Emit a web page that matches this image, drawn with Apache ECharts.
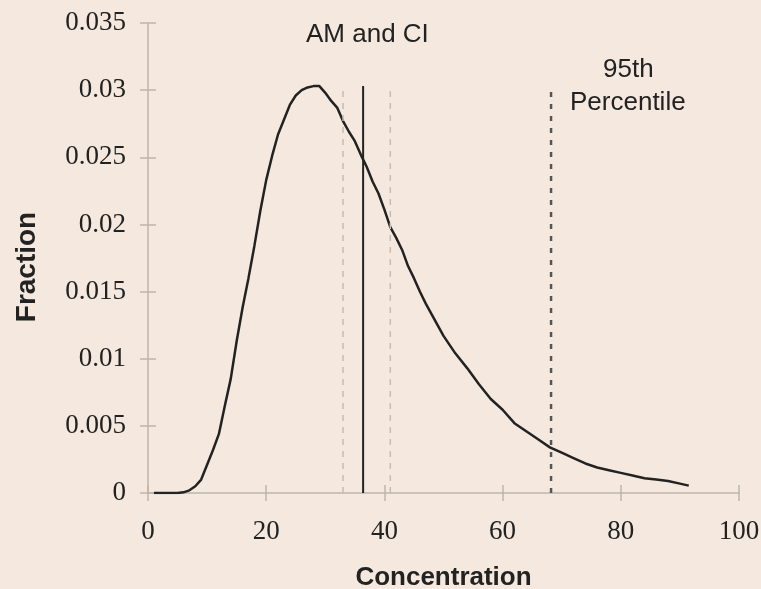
<!doctype html>
<html>
<head>
    <meta charset="utf-8">
    <title>Fraction vs Concentration</title>
    <style>
        html, body { margin: 0; padding: 0; width: 100%; height: 100%; background: #f5e9df; }
        #chart { width: 761px; height: 589px; }
    </style>
</head>
<body>
<div id="chart"></div>
<script src="https://cdn.jsdelivr.net/npm/echarts@6/dist/echarts.min.js"></script>
<script>
    // curve
    var conc = [1, 2, 3, 4, 5, 6, 7, 8, 9, 10, 11, 12, 13, 14, 15, 16, 17, 18, 19, 20,
        21, 22, 23, 24, 25, 26, 27, 28, 29, 30, 31, 32, 33, 34, 35, 36, 37, 38, 39, 40,
        41, 42, 43, 44, 45, 46, 47, 48, 49, 50, 52, 54, 56, 58, 60, 62, 64, 66, 68, 70,
        72, 74, 76, 78, 80, 82, 84, 86, 88, 90, 91.5];
    var fraction = [0, 0, 0, 0, 0, 0.00005, 0.0002, 0.0005, 0.001, 0.0021, 0.0032, 0.0044, 0.0065, 0.0085, 0.0113, 0.0138, 0.016, 0.0184, 0.021, 0.0233,
        0.0251, 0.0267, 0.0278, 0.0289, 0.0296, 0.03, 0.0302, 0.0303, 0.0303, 0.0298, 0.0292, 0.0287, 0.0277, 0.0269, 0.0262, 0.0252, 0.0243, 0.0232, 0.0223, 0.0211,
        0.0198, 0.019, 0.0181, 0.0169, 0.016, 0.015, 0.0141, 0.0133, 0.0125, 0.0117, 0.0104, 0.0093, 0.0081, 0.007, 0.0062, 0.0052, 0.0046, 0.004, 0.0034, 0.003,
        0.0026, 0.0022, 0.0019, 0.0017, 0.0015, 0.0013, 0.0011, 0.001, 0.0009, 0.0007, 0.00055];

    // reference lines
    var amValue = 36.4;
    var ciLow = 33;
    var ciHigh = 41;
    var p95 = 68.2;
    var lineTop = 0.0303;

    var xTicks = [0, 20, 40, 60, 80, 100];

    var curve = conc.map(function (c, i) { return [c, fraction[i]]; });

    function vline(x) { return [[x, 0], [x, lineTop]]; }

    var axisColor = '#bdb5ad';
    var serif = '"Liberation Serif", "DejaVu Serif", serif';
    var sans = '"Liberation Sans", Arial, sans-serif';

    var myChart = echarts.init(document.getElementById('chart'));
    var option = {
        backgroundColor: '#f5e9df',
        animation: false,
        grid: { left: 148, right: 22, top: 23, bottom: 96, outerBoundsMode: 'none' },
        xAxis: [{
            type: 'value', min: 0, max: 100, interval: 20,
            name: 'Concentration', nameLocation: 'middle', nameGap: 72,
            nameTextStyle: { fontFamily: sans, fontWeight: 'bold', fontSize: 26, color: '#222' },
            axisLine: { lineStyle: { color: axisColor, width: 1.5 } },
            axisTick: { length: 8, lineStyle: { color: axisColor, width: 1.5 } },
            axisLabel: { margin: 25, fontFamily: serif, fontSize: 27, color: '#222',
                formatter: function (v) { return xTicks.indexOf(v) >= 0 ? String(v) : ''; } },
            splitLine: { show: false }
        }, {
            type: 'value', min: 0, max: 100, interval: 20, position: 'bottom',
            axisLine: { show: false },
            axisTick: { inside: true, length: 8, lineStyle: { color: axisColor, width: 1.5 } },
            axisLabel: { show: false },
            splitLine: { show: false }
        }],
        yAxis: [{
            type: 'value', min: 0, max: 0.035, interval: 0.005,
            name: 'Fraction', nameLocation: 'middle', nameGap: 107, nameRotate: 90,
            nameTextStyle: { fontFamily: sans, fontWeight: 'bold', fontSize: 28, color: '#222', padding: [0, 18, 0, 0] },
            axisLine: { show: true, lineStyle: { color: axisColor, width: 1.5 } },
            axisTick: { show: true, length: 8, lineStyle: { color: axisColor, width: 1.5 } },
            axisLabel: { margin: 22, fontFamily: serif, fontSize: 27, color: '#222',
                formatter: function (v) { return v === 0 ? '0' : String(+v.toFixed(3)); } },
            splitLine: { show: false }
        }, {
            type: 'value', min: 0, max: 0.035, interval: 0.005, position: 'left',
            axisLine: { show: false },
            axisTick: { show: true, inside: true, length: 8, lineStyle: { color: axisColor, width: 1.5 } },
            axisLabel: { show: false },
            splitLine: { show: false }
        }],
        series: [
            {
                type: 'line', data: curve, symbol: 'none', smooth: false,
                lineStyle: { color: '#222', width: 2.5 }
            },
            {
                type: 'line', data: vline(ciLow), symbol: 'none',
                lineStyle: { color: '#c4bcb6', width: 1.5, type: [6, 6] }
            },
            {
                type: 'line', data: vline(ciHigh), symbol: 'none',
                lineStyle: { color: '#c4bcb6', width: 1.5, type: [6, 6] }
            },
            {
                type: 'line', data: vline(amValue), symbol: 'none',
                lineStyle: { color: '#222', width: 2 }
            },
            {
                type: 'line', data: vline(p95), symbol: 'none',
                lineStyle: { color: '#555', width: 2.5, type: [5, 7] }
            }
        ],
        graphic: [
            { type: 'text', left: 306, top: 22, style: { text: 'AM and CI', font: '26px ' + sans, fill: '#222' } },
            { type: 'text', left: 603, top: 57, style: { text: '95th', font: '26px ' + sans, fill: '#222' } },
            { type: 'text', left: 570, top: 90, style: { text: 'Percentile', font: '26px ' + sans, fill: '#222' } }
        ]
    };
    myChart.setOption(option);
</script>
</body>
</html>
